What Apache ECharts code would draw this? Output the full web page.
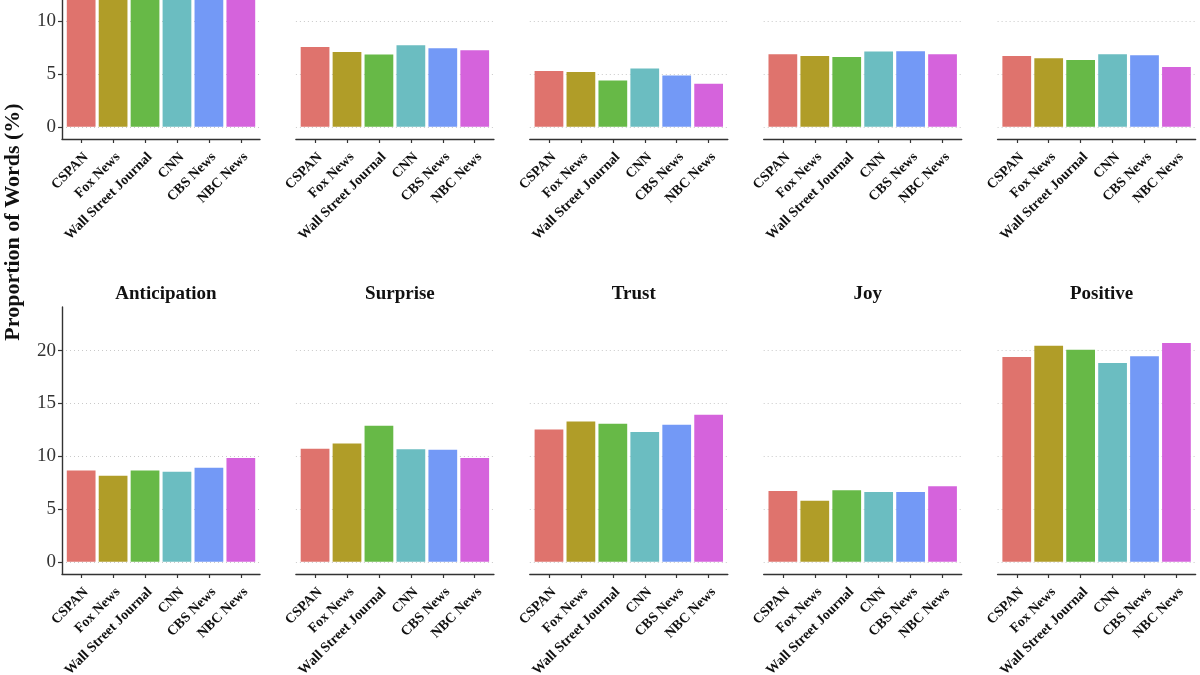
<!DOCTYPE html>
<html>
<head>
<meta charset="utf-8">
<script src="https://cdn.jsdelivr.net/npm/echarts@6/dist/echarts.min.js"></script>
<style>
html,body{margin:0;padding:0;background:#fff;}
#chart{width:1200px;height:675px;}
</style>
</head>
<body>
<div id="chart"></div>
<script>
// ---- data ----
const categories = ['CSPAN', 'Fox News', 'Wall Street Journal', 'CNN', 'CBS News', 'NBC News'];
const barColors = ['#DF736D', '#B09D28', '#67B947', '#6BBDC1', '#7399F6', '#D563DC'];
const yTicks = [0, 5, 10, 15, 20];

// top row (panel titles and bar tops are cropped out of the picture)
const topPanel1 = [21.2, 22.9, 21.6, 22.1, 21.4, 20.8];
const topPanel2 = [7.56, 7.09, 6.84, 7.72, 7.44, 7.25];
const topPanel3 = [5.29, 5.20, 4.39, 5.52, 4.86, 4.07];
const topPanel4 = [6.87, 6.71, 6.62, 7.13, 7.16, 6.87];
const topPanel5 = [6.71, 6.49, 6.33, 6.87, 6.78, 5.67];

// bottom row
const anticipation = [8.64, 8.14, 8.64, 8.52, 8.90, 9.82];
const surprise = [10.70, 11.21, 12.89, 10.67, 10.61, 9.82];
const trust = [12.54, 13.30, 13.08, 12.29, 12.98, 13.93];
const joy = [6.71, 5.79, 6.78, 6.62, 6.62, 7.16];
const positive = [19.41, 20.46, 20.10, 18.84, 19.47, 20.74];

const bottomTitles = ['Anticipation', 'Surprise', 'Trust', 'Joy', 'Positive'];
const yAxisTitle = 'Proportion of Words (%)';

const panels = [
  {row: 0, col: 0, values: topPanel1, title: null},
  {row: 0, col: 1, values: topPanel2, title: null},
  {row: 0, col: 2, values: topPanel3, title: null},
  {row: 0, col: 3, values: topPanel4, title: null},
  {row: 0, col: 4, values: topPanel5, title: null},
  {row: 1, col: 0, values: anticipation, title: bottomTitles[0]},
  {row: 1, col: 1, values: surprise, title: bottomTitles[1]},
  {row: 1, col: 2, values: trust, title: bottomTitles[2]},
  {row: 1, col: 3, values: joy, title: bottomTitles[3]},
  {row: 1, col: 4, values: positive, title: bottomTitles[4]}
];

// ---- layout ----
const panelLeft0 = 62, panelStep = 233.9, panelW = 198;
const fullH = 267;                 // full panel height
const Y_MIN = -1.16, Y_MAX = 24.14; // full panel value range
// top row is cropped at the top of the picture: visible part only
const rowTop = [0, 307];
const rowH = [139, fullH];
const rowYMax = [Y_MIN + 139 * (Y_MAX - Y_MIN) / fullH, Y_MAX];
const X_MIN = 0.4, X_MAX = 6.6;
const serif = '"Liberation Serif", "Times New Roman", serif';

const grids = [], xAxes = [], yAxes = [], series = [], titles = [];
panels.forEach((p, k) => {
  const left = panelLeft0 + p.col * panelStep;
  grids.push({left: left, top: rowTop[p.row], width: panelW, height: rowH[p.row],
              containLabel: false, outerBoundsMode: 'none'});
  xAxes.push({
    type: 'value', gridIndex: k, min: X_MIN, max: X_MAX,
    axisLine: {show: true, onZero: false, lineStyle: {color: '#333', width: 1.4}},
    axisTick: {show: true, length: 4, customValues: [1, 2, 3, 4, 5, 6], lineStyle: {color: '#333', width: 1.2}},
    axisLabel: {
      show: true, customValues: [1, 2, 3, 4, 5, 6], rotate: 45, margin: 11,
      verticalAlign: 'top',
      formatter: v => categories[Math.round(v) - 1],
      fontFamily: serif, fontWeight: 'bold', fontSize: 14, color: '#111'
    },
    splitLine: {show: false}
  });
  const first = p.col === 0;
  yAxes.push({
    type: 'value', gridIndex: k, min: Y_MIN, max: rowYMax[p.row],
    axisLine: {show: first, onZero: false, lineStyle: {color: '#333', width: 1.4}},
    axisTick: {show: first, length: 4, customValues: yTicks, lineStyle: {color: '#333', width: 1.2}},
    axisLabel: {show: first, customValues: yTicks, margin: 6, fontFamily: serif, fontSize: 19, color: '#333'},
    splitLine: {show: true, lineStyle: {color: '#c9c9c9', type: [1, 3], width: 1}}
  });
  series.push({
    type: 'bar', xAxisIndex: k, yAxisIndex: k, clip: true,
    barWidth: panelW * 0.9 / (X_MAX - X_MIN),
    data: p.values.map((v, i) => [i + 1, v]),
    itemStyle: {color: params => barColors[params.dataIndex]},
    silent: true
  });
  if (p.title) {
    titles.push({
      text: p.title, left: left + panelW / 2, top: rowTop[p.row] - 27, textAlign: 'center',
      textStyle: {fontFamily: serif, fontWeight: 'bold', fontSize: 19, color: '#111'}
    });
  }
});

const chart = echarts.init(document.getElementById('chart'), null, {renderer: 'canvas'});
chart.setOption({
  backgroundColor: '#fff',
  animation: false,
  title: titles,
  grid: grids,
  xAxis: xAxes,
  yAxis: yAxes,
  series: series,
  graphic: [{
    type: 'text', x: 13, y: 222, rotation: Math.PI / 2,
    style: {text: yAxisTitle, fontFamily: serif, fontWeight: 'bold', fontSize: 22, fill: '#111',
            align: 'center', verticalAlign: 'middle'}
  }]
});
</script>
</body>
</html>
